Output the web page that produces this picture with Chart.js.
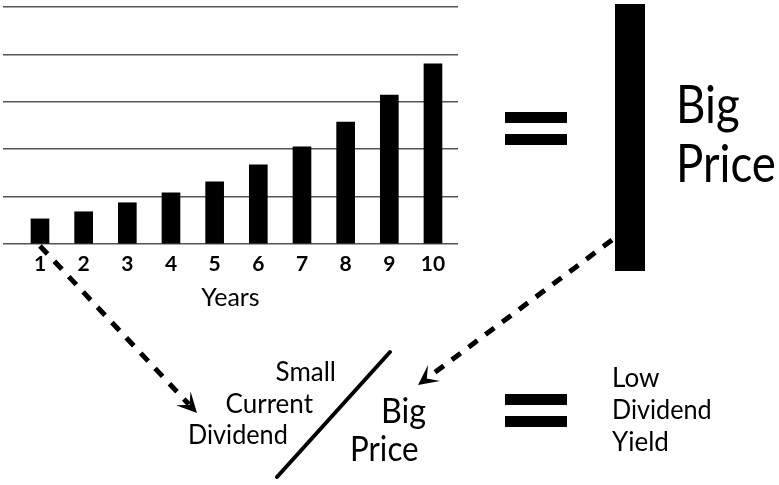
<!DOCTYPE html>
<html>
<head>
<meta charset="utf-8">
<script src="https://cdn.jsdelivr.net/npm/chart.js@4"></script>
<style>
  html, body { margin: 0; padding: 0; background: #fff; }
  #wrap { position: relative; width: 779px; height: 485px; overflow: hidden; }
  #wrap canvas { position: absolute; }
  .note { position: absolute; font-family: Lato, sans-serif; color: #000; white-space: nowrap; line-height: 1; }
</style>
</head>
<body>
<div id="wrap">
  <canvas id="growth" width="779" height="485" style="left:0;top:0"></canvas>
  <canvas id="price" width="30" height="267" style="left:615px;top:4px"></canvas>
</div>
<script>
// dividend growth bars (one gridline = 1 unit)
const years = [1, 2, 3, 4, 5, 6, 7, 8, 9, 10];
const dividends = [0.53, 0.68, 0.87, 1.08, 1.31, 1.67, 2.05, 2.57, 3.14, 3.80];
const gridSteps = [0, 1, 2, 3, 4, 5];
// the single tall "price" bar on the right
const priceLabels = ['Price'];
const priceValues = [1];

// text annotations: [text, x, baseline, size, align, horizontal squeeze]
const notesText = [
  ['Big', 676, 123, 53, 'left', 0.86],
  ['Price', 676, 182, 53, 'left', 0.86],
  ['Small', 336, 381, 26, 'right', 1],
  ['Current', 313, 413, 26, 'right', 1],
  ['Dividend', 288, 444, 26, 'right', 0.97],
  ['Big', 381, 423, 34, 'left', 0.95],
  ['Price', 350, 461, 34, 'left', 0.92],
  ['Low', 612, 387, 26, 'left', 1],
  ['Dividend', 612, 419, 26, 'left', 0.97],
  ['Yield', 612, 451, 26, 'left', 1]
];

const wrap = document.getElementById('wrap');
notesText.forEach(([t, x, base, size, align, sq]) => {
  const d = document.createElement('div');
  d.className = 'note';
  d.textContent = t;
  d.style.fontSize = size + 'px';
  d.style.top = (base - 0.887 * size) + 'px';
  if (align === 'right') {
    d.style.right = (779 - x) + 'px';
    d.style.transformOrigin = 'right';
  } else {
    d.style.left = x + 'px';
    d.style.transformOrigin = 'left';
  }
  if (sq !== 1) d.style.transform = `scaleX(${sq})`;
  wrap.appendChild(d);
});

function arrow(c, x0, y0, x1, y1) {
  const dx = x1 - x0, dy = y1 - y0, len = Math.hypot(dx, dy);
  const ux = dx / len, uy = dy / len, nx = -uy, ny = ux;
  const L = 20, W = 10;
  c.setLineDash([11, 10]);
  c.lineWidth = 5;
  c.lineCap = 'butt';
  c.beginPath();
  c.moveTo(x0, y0);
  c.lineTo(x1 - ux * L * 0.6, y1 - uy * L * 0.6);
  c.stroke();
  c.setLineDash([]);
  c.beginPath();
  c.moveTo(x1, y1);
  c.lineTo(x1 - ux * L + nx * W, y1 - uy * L + ny * W);
  c.lineTo(x1 - ux * L * 0.55, y1 - uy * L * 0.55);
  c.lineTo(x1 - ux * L - nx * W, y1 - uy * L - ny * W);
  c.closePath();
  c.fill();
}

// equals signs, slash and dashed arrows
const notes = {
  id: 'notes',
  afterDraw(chart) {
    const c = chart.ctx;
    const sx = chart.scales.x, sy = chart.scales.y;
    c.save();
    c.fillStyle = '#000';
    c.strokeStyle = '#000';
    [[505, 112], [505, 394]].forEach(([x, y]) => {
      c.fillRect(x, y, 62, 11);
      c.fillRect(x, y + 22, 62, 11);
    });
    c.lineWidth = 4;
    c.lineCap = 'round';
    c.beginPath();
    c.moveTo(390, 352);
    c.lineTo(277, 477);
    c.stroke();
    arrow(c, sx.getPixelForValue(years[0]), sy.getPixelForValue(0) + 2, 197, 413);
    arrow(c, 612, 240, 418, 385);
    c.restore();
  }
};

new Chart(document.getElementById('growth'), {
  type: 'bar',
  data: {
    datasets: [{
      data: years.map((y, i) => ({ x: y, y: dividends[i] })),
      backgroundColor: '#000',
      barThickness: 18
    }]
  },
  options: {
    responsive: false,
    animation: false,
    events: [],
    layout: { padding: { left: 3, right: 321, top: 7, bottom: 175 } },
    plugins: { legend: { display: false }, tooltip: { enabled: false } },
    scales: {
      x: {
        type: 'linear',
        offset: false,
        min: 0.153,
        max: 10.573,
        grid: { display: false, drawTicks: false },
        border: { display: false },
        afterBuildTicks: a => { a.ticks = years.map(v => ({ value: v })); },
        ticks: { padding: 10, maxRotation: 0, autoSkip: false, color: '#000', font: { family: 'Lato', size: 21, weight: 'bold', lineHeight: 1 } },
        title: { display: true, text: 'Years', color: '#000', font: { family: 'Lato', size: 25, lineHeight: 1 }, padding: { top: 0, bottom: 0 } }
      },
      y: {
        min: 0,
        max: 5,
        afterBuildTicks: a => { a.ticks = gridSteps.map(v => ({ value: v })); },
        ticks: { display: false },
        border: { display: false },
        grid: { color: '#555', lineWidth: 1.5, drawTicks: false }
      }
    }
  },
  plugins: [notes]
});

new Chart(document.getElementById('price'), {
  type: 'bar',
  data: {
    labels: priceLabels,
    datasets: [{ data: priceValues, backgroundColor: '#000', barPercentage: 1, categoryPercentage: 1 }]
  },
  options: {
    responsive: false,
    animation: false,
    events: [],
    layout: { padding: 0 },
    plugins: { legend: { display: false }, tooltip: { enabled: false } },
    scales: { x: { display: false }, y: { display: false, min: 0, max: 1 } }
  }
});
</script>
</body>
</html>
